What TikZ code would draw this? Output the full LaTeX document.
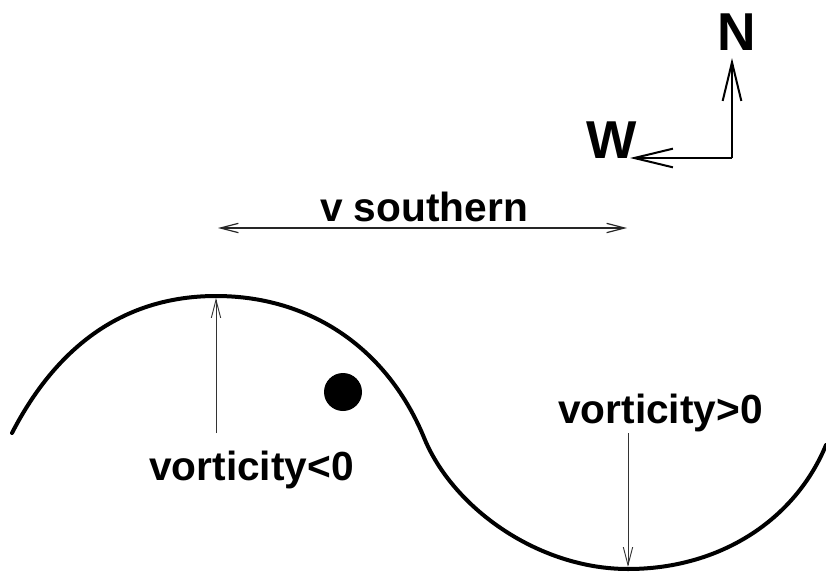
\documentclass[tikz,border=0pt]{standalone}
\usepackage{fontspec}
\setmainfont{Liberation Sans}
\usetikzlibrary{arrows.meta}
\tikzset{
  lbl/.style={font=\bfseries\fontsize{30.5pt}{30.5pt}\selectfont, inner sep=0pt, anchor=base},
  compasslbl/.style={font=\bfseries\fontsize{40pt}{40pt}\selectfont, inner sep=0pt, anchor=base},
  thinarrow/.style={line width=0.7pt, draw=black!80, -{Straight Barb[length=13.5pt,width=7pt,line width=0.7pt]}},
  thindbl/.style={line width=0.9pt, draw=black!85, {Straight Barb[length=13.5pt,width=7pt]}-{Straight Barb[length=13.5pt,width=7pt]}},
  compassarrow/.style={line width=1.5pt, -{Straight Barb[length=29pt,width=14pt]}},
  wave/.style={line width=3pt, line cap=round}
}
\begin{document}
\begin{tikzpicture}[x=0.75pt,y=-0.75pt]
\useasboundingbox (0,0) rectangle (826,572);
% compass
\node[compasslbl] (N) at (736.5,50) {N};
\node[compasslbl] (W) at (612,158) {W};
\coordinate (corner) at (732,158);
\coordinate (ntip) at (732,58);
\coordinate (wtip) at (630,158);
\draw[compassarrow] (corner) -- (ntip);
\draw[compassarrow] (corner) -- (wtip);
% v southern
\node[lbl] (vs) at (424,221) {v southern};
\coordinate (vsl) at (218,228);
\coordinate (vsr) at (627,228);
\draw[thindbl] (vsl) -- (vsr);
% wave
\coordinate (wstart) at (12,433);
\coordinate (peak) at (216,296);
\coordinate (infl) at (425,440);
\coordinate (trough) at (628,569);
\coordinate (wend) at (826,445);
\draw[wave] (wstart) .. controls (60,340) and (130,296) .. (peak)
  .. controls (310,296) and (388,348) .. (infl)
  .. controls (455,510) and (540,569) .. (trough)
  .. controls (720,569) and (795,520) .. (wend);
% dot
\fill (343,392) circle[radius=19];
% vorticity labels
\node[lbl] (vneg) at (251.5,480) {vorticity<0};
\node[lbl] (vpos) at (660.5,423) {vorticity>0};
\coordinate (negfoot) at (216,433);
\coordinate (negtip) at (216,298);
\coordinate (posfoot) at (628,433);
\coordinate (postip) at (628,567);
\draw[thinarrow] (negfoot) -- (negtip);
\draw[thinarrow] (posfoot) -- (postip);
\end{tikzpicture}
\end{document}
